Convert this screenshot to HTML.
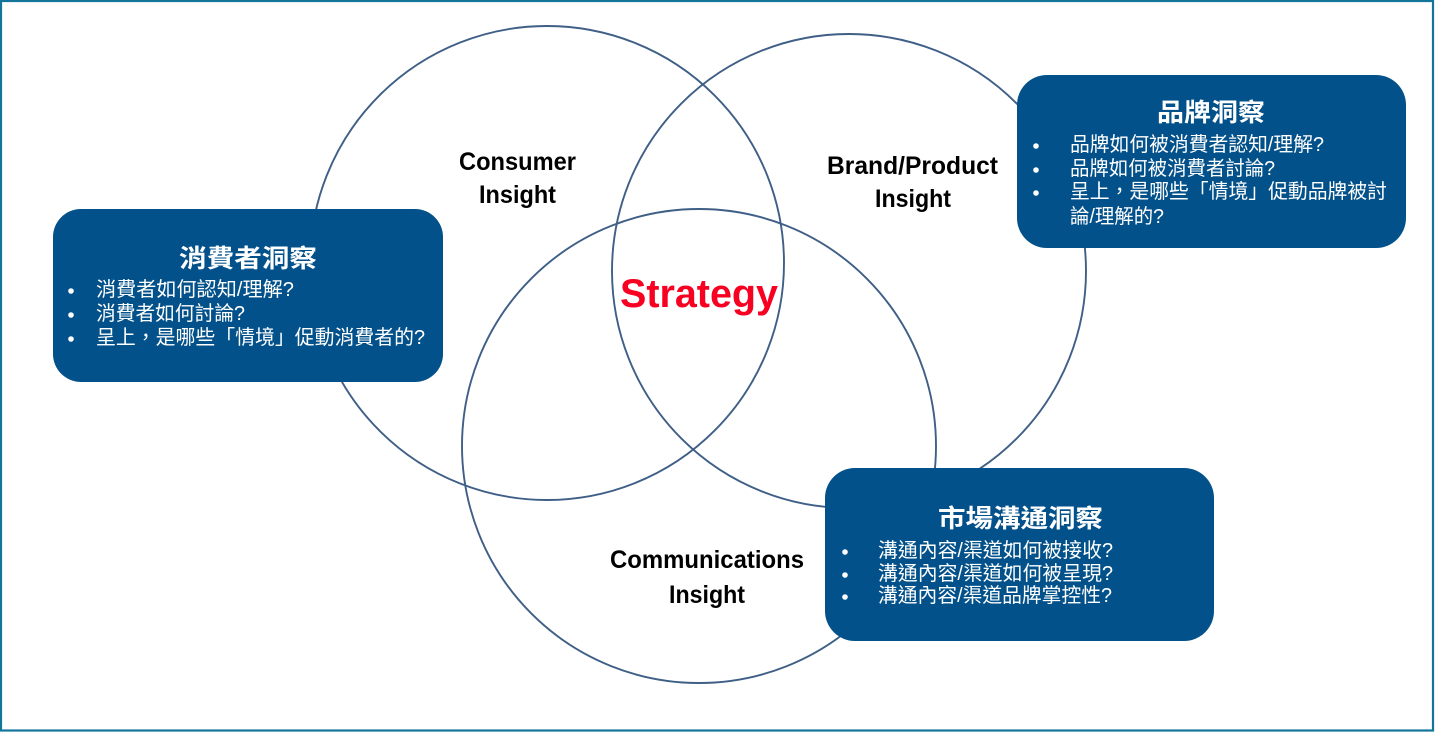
<!DOCTYPE html>
<html>
<head>
<meta charset="utf-8">
<style>
  html, body { margin:0; padding:0; background:#ffffff; }
  body { width:1437px; height:732px; overflow:hidden; }
  svg { display:block; }
  .lbl { font-family:"Liberation Sans", sans-serif; font-weight:bold; fill:#000; font-size:25px; }
  .ttl { font-family:"Liberation Sans", "Noto Sans CJK TC", sans-serif; font-weight:bold; fill:#fff; font-size:25px; }
  .itm { font-family:"Liberation Sans", "Noto Sans CJK TC", sans-serif; fill:#fff; font-size:20px; }
</style>
</head>
<body>
<svg width="1437" height="732" viewBox="0 0 1437 732" xmlns="http://www.w3.org/2000/svg">
  <rect x="0" y="0" width="1437" height="732" fill="#ffffff"/>
  <!-- frame -->
  <rect x="1" y="1" width="1432" height="729.5" fill="none" stroke="#127599" stroke-width="2.2"/>

  <!-- circles -->
  <g fill="none" stroke="#3f5f87" stroke-width="1.9">
    <circle cx="547" cy="263" r="237"/>
    <circle cx="849" cy="271" r="237"/>
    <circle cx="699" cy="446" r="237"/>
  </g>

  <!-- boxes -->
  <g fill="#03518a">
    <rect x="53" y="209" width="390" height="173" rx="28" ry="28"/>
    <rect x="1017" y="75" width="389" height="173" rx="30" ry="30"/>
    <rect x="825" y="468" width="389" height="173" rx="30" ry="30"/>
  </g>

  <!-- circle labels -->
  <text class="lbl" x="459" y="170" textLength="117" lengthAdjust="spacingAndGlyphs">Consumer</text>
  <text class="lbl" x="479" y="203" textLength="77" lengthAdjust="spacingAndGlyphs">Insight</text>
  <text class="lbl" x="827" y="174" textLength="171" lengthAdjust="spacingAndGlyphs">Brand/Product</text>
  <text class="lbl" x="875" y="207" textLength="76" lengthAdjust="spacingAndGlyphs">Insight</text>
  <text class="lbl" x="610" y="568" textLength="194" lengthAdjust="spacingAndGlyphs">Communications</text>
  <text class="lbl" x="669" y="603" textLength="76" lengthAdjust="spacingAndGlyphs">Insight</text>

  <text x="620" y="307" font-family="Liberation Sans, sans-serif" font-weight="bold" font-size="40" fill="#f70022" textLength="158" lengthAdjust="spacingAndGlyphs">Strategy</text>

  <!-- Box 1 -->
  <text class="ttl" x="179" y="267" textLength="138" lengthAdjust="spacingAndGlyphs">消費者洞察</text>
  <g fill="#fff">
    <circle cx="71" cy="291" r="2.8"/>
    <circle cx="71" cy="315" r="2.8"/>
    <circle cx="71" cy="339" r="2.8"/>
  </g>
  <text class="itm" x="96" y="296" textLength="198" lengthAdjust="spacingAndGlyphs">消費者如何認知/理解?</text>
  <text class="itm" x="96" y="320" textLength="149" lengthAdjust="spacingAndGlyphs">消費者如何討論?</text>
  <text class="itm" x="96" y="344" textLength="329" lengthAdjust="spacingAndGlyphs">呈上，是哪些「情境」促動消費者的?</text>

  <!-- Box 2 -->
  <text class="ttl" x="1157" y="121" textLength="108" lengthAdjust="spacingAndGlyphs">品牌洞察</text>
  <g fill="#fff">
    <circle cx="1036" cy="146" r="2.8"/>
    <circle cx="1036" cy="170" r="2.8"/>
    <circle cx="1036" cy="193" r="2.8"/>
  </g>
  <text class="itm" x="1070" y="151" textLength="254" lengthAdjust="spacingAndGlyphs">品牌如何被消費者認知/理解?</text>
  <text class="itm" x="1070" y="175" textLength="205" lengthAdjust="spacingAndGlyphs">品牌如何被消費者討論?</text>
  <text class="itm" x="1070" y="198" textLength="317" lengthAdjust="spacingAndGlyphs">呈上，是哪些「情境」促動品牌被討</text>
  <text class="itm" x="1070" y="223" textLength="94" lengthAdjust="spacingAndGlyphs">論/理解的?</text>

  <!-- Box 3 -->
  <text class="ttl" x="938" y="527" textLength="165" lengthAdjust="spacingAndGlyphs">市場溝通洞察</text>
  <g fill="#fff">
    <circle cx="845" cy="552" r="2.8"/>
    <circle cx="845" cy="575" r="2.8"/>
    <circle cx="845" cy="597" r="2.8"/>
  </g>
  <text class="itm" x="878" y="557" textLength="235" lengthAdjust="spacingAndGlyphs">溝通內容/渠道如何被接收?</text>
  <text class="itm" x="878" y="580" textLength="235" lengthAdjust="spacingAndGlyphs">溝通內容/渠道如何被呈現?</text>
  <text class="itm" x="878" y="602" textLength="234" lengthAdjust="spacingAndGlyphs">溝通內容/渠道品牌掌控性?</text>
</svg>
</body>
</html>
